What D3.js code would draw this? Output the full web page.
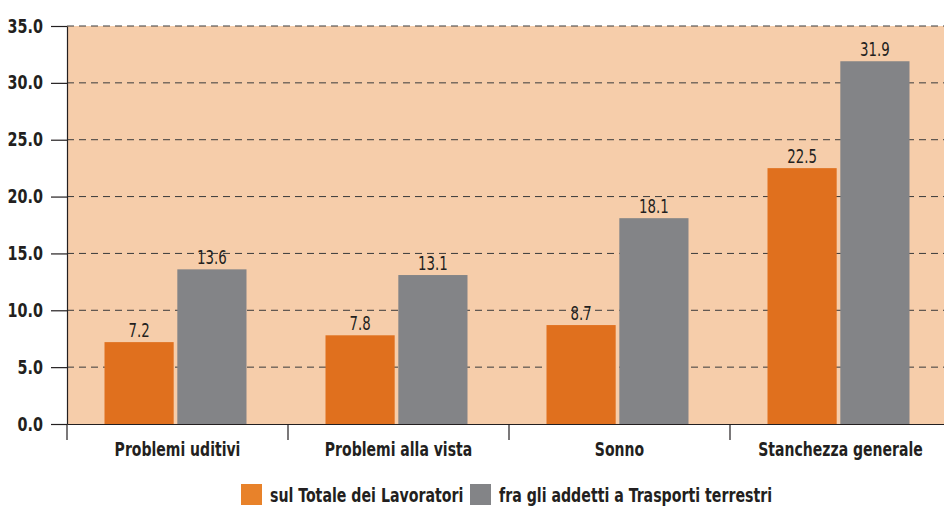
<!DOCTYPE html>
<html>
<head>
<meta charset="utf-8">
<script src="https://cdn.jsdelivr.net/npm/d3@7"></script>
<style>
  body { margin: 0; background: #fff; }
  svg text { font-family: "DejaVu Sans Condensed", "Liberation Sans Narrow", "Noto Sans", sans-serif; fill: #231f20; }
</style>
</head>
<body>
<svg id="chart" width="944" height="507"></svg>
<script>
// chart data
const categories = ["Problemi uditivi", "Problemi alla vista", "Sonno", "Stanchezza generale"];
const seriesNames = ["sul Totale dei Lavoratori", "fra gli addetti a Trasporti terrestri"];
const totaleValues = [7.2, 7.8, 8.7, 22.5];
const trasportiValues = [13.6, 13.1, 18.1, 31.9];
const yTicks = [0, 5, 10, 15, 20, 25, 30, 35];

const barColors = ["#e0701e", "#838487"];
const legendColors = ["#e8822a", "#838487"];

const svg = d3.select("#chart");
const margin = {top: 26, left: 67, bottom: 424};
const plotRight = 951; // axis runs past the right edge of the picture

const x = d3.scaleBand().domain(categories).range([margin.left, plotRight]);
const xInner = d3.scaleBand().domain([0, 1]).range([0, 142]).paddingInner(0.05);
const y = d3.scaleLinear().domain([0, 35]).range([margin.bottom, margin.top]);

// the original uses a condensed face, so squeeze text horizontally
function squeeze(sel, sx) {
  sel.each(function() {
    const t = d3.select(this);
    const tx = +t.attr("x") || 0, ty = +t.attr("y") || 0;
    t.attr("x", 0).attr("y", 0)
      .attr("transform", `translate(${tx},${ty}) scale(${sx},1)`);
  });
}

// background
svg.append("rect")
  .attr("x", margin.left).attr("y", y(35))
  .attr("width", 944 - margin.left).attr("height", y(0) - y(35))
  .attr("fill", "#f6cdaa");

// dashed gridlines
svg.append("g").selectAll("line")
  .data(yTicks.filter(d => d > 0))
  .join("line")
    .attr("x1", margin.left).attr("x2", 944)
    .attr("y1", d => y(d)).attr("y2", d => y(d))
    .attr("stroke", "#3a3a3a").attr("stroke-width", 1)
    .attr("stroke-dasharray", "7,5");

// bars
const rows = categories.map((c, i) => ({cat: c, vals: [totaleValues[i], trasportiValues[i]]}));
const groups = svg.append("g").selectAll("g")
  .data(rows)
  .join("g")
    .attr("transform", d => `translate(${x(d.cat) + x.bandwidth() / 2 - 73},0)`);

groups.selectAll("rect")
  .data(d => d.vals.map((v, k) => ({v, k})))
  .join("rect")
    .attr("x", d => xInner(d.k))
    .attr("width", xInner.bandwidth())
    .attr("y", d => y(d.v))
    .attr("height", d => y(0) - y(d.v))
    .attr("fill", d => barColors[d.k]);

groups.selectAll("text")
  .data(d => d.vals.map((v, k) => ({v, k})))
  .join("text")
    .attr("x", d => xInner(d.k) + xInner.bandwidth() / 2)
    .attr("y", d => y(d.v) - 5)
    .attr("text-anchor", "middle")
    .attr("font-size", 19)
    .text(d => d.v.toFixed(1))
    .call(squeeze, 0.78);

// y axis
const yAxis = svg.append("g")
  .attr("transform", `translate(${margin.left},0)`)
  .call(d3.axisLeft(y).tickValues(yTicks).tickFormat(d3.format(".1f")).tickSize(16).tickSizeOuter(0));
yAxis.select(".domain").attr("stroke", "#231f20").attr("stroke-width", 1.2);
yAxis.selectAll(".tick line").attr("stroke", "#231f20").attr("stroke-width", 1.2);
yAxis.selectAll(".tick text")
  .attr("font-size", 19).attr("font-weight", "bold").attr("x", -24).attr("fill", "#231f20")
  .call(squeeze, 0.84);

// x axis
const xAxis = svg.append("g")
  .attr("transform", `translate(0,${margin.bottom})`)
  .call(d3.axisBottom(x).tickSize(0).tickSizeOuter(0));
xAxis.select(".domain").attr("stroke", "#231f20").attr("stroke-width", 1.2);
xAxis.selectAll(".tick text")
  .attr("font-size", 20).attr("font-weight", "bold").attr("y", 18).attr("fill", "#231f20")
  .call(squeeze, 0.78);

// separators between categories
svg.append("g").selectAll("line")
  .data(categories)
  .join("line")
    .attr("x1", d => x(d)).attr("x2", d => x(d))
    .attr("y1", margin.bottom).attr("y2", margin.bottom + 16)
    .attr("stroke", "#231f20").attr("stroke-width", 1.2);

// legend
const legendX = [241, 470];
const legend = svg.append("g").selectAll("g")
  .data(seriesNames)
  .join("g")
    .attr("transform", (d, i) => `translate(${legendX[i]},484)`);
legend.append("rect")
  .attr("width", 21).attr("height", 21)
  .attr("fill", (d, i) => legendColors[i]);
legend.append("text")
  .attr("x", 29).attr("y", 18)
  .attr("font-size", 19).attr("font-weight", "bold")
  .text(d => d)
  .call(squeeze, 0.83);
</script>
</body>
</html>
